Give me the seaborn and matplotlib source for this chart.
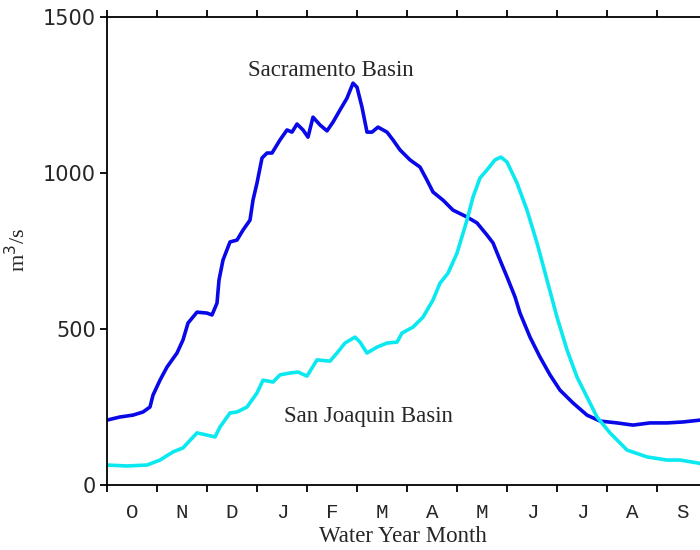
import pandas as pd
import numpy as np
import matplotlib.pyplot as plt
import seaborn as sns

sns.set_style("white")

# ---------------------------
# Data (month fraction of water year)
# ---------------------------
months = ['O', 'N', 'D', 'J', 'F', 'M', 'A', 'M', 'J', 'J', 'A', 'S']

sac_x = [0.00, 0.26, 0.52, 0.72, 0.86, 0.92, 1.06, 1.20, 1.40, 1.52, 1.62, 1.80,
         2.00, 2.10, 2.20, 2.24, 2.32, 2.46, 2.60, 2.72, 2.86, 2.92, 3.00, 3.10,
         3.20, 3.30, 3.46, 3.60, 3.70, 3.80, 3.92, 4.02, 4.12, 4.26, 4.40, 4.52,
         4.66, 4.80, 4.92, 5.00, 5.10, 5.20, 5.30, 5.42, 5.60, 5.72, 5.86, 6.06,
         6.26, 6.40, 6.52, 6.72, 6.92, 7.20, 7.40, 7.60, 7.72, 7.86, 8.00, 8.16,
         8.26, 8.46, 8.66, 8.86, 9.06, 9.32, 9.60, 9.86, 10.20, 10.52, 10.86,
         11.20, 11.52, 11.86, 12.00]
sac_q = [208, 218, 224, 234, 250, 288, 336, 378, 423, 465, 519, 554,
         551, 545, 583, 657, 721, 779, 785, 817, 849, 913, 968, 1048,
         1064, 1064, 1106, 1138, 1131, 1157, 1138, 1115, 1179, 1154, 1135, 1163,
         1202, 1240, 1288, 1275, 1211, 1131, 1131, 1147, 1131, 1106, 1074, 1042,
         1019, 977, 939, 913, 881, 859, 840, 801, 776, 721, 667, 603,
         551, 474, 410, 353, 304, 263, 224, 205, 199, 192, 199,
         199, 202, 208, 210]

sj_x = [0.00, 0.40, 0.80, 1.06, 1.32, 1.52, 1.80, 2.00, 2.16, 2.26, 2.46, 2.60,
        2.80, 3.00, 3.12, 3.32, 3.46, 3.66, 3.82, 4.00, 4.10, 4.20, 4.46, 4.60,
        4.76, 4.96, 5.06, 5.20, 5.40, 5.60, 5.80, 5.90, 6.12, 6.32, 6.52, 6.66,
        6.82, 7.00, 7.20, 7.32, 7.46, 7.60, 7.76, 7.88, 8.00, 8.20, 8.40, 8.60,
        8.80, 9.00, 9.20, 9.40, 9.60, 9.80, 10.06, 10.40, 10.80, 11.20, 11.46,
        11.80, 12.00]
sj_q = [64, 61, 64, 80, 106, 119, 167, 160, 154, 186, 231, 234,
        250, 295, 336, 330, 353, 359, 362, 349, 375, 401, 397, 423,
        455, 474, 458, 423, 442, 455, 458, 487, 506, 538, 593, 647,
        679, 743, 849, 923, 984, 1010, 1042, 1051, 1035, 968, 881, 776,
        657, 538, 433, 346, 282, 218, 167, 112, 90, 80, 80,
        71, 64]

df = pd.concat([
    pd.DataFrame({'month': sac_x, 'flow': sac_q, 'basin': 'Sacramento Basin'}),
    pd.DataFrame({'month': sj_x, 'flow': sj_q, 'basin': 'San Joaquin Basin'}),
])

fig = plt.figure(figsize=(7, 5.5), dpi=100)
ax = fig.add_axes([107 / 700, 65 / 550, 600 / 700, 468 / 550])

sns.lineplot(data=df, x='month', y='flow', hue='basin',
             palette={'Sacramento Basin': '#0808e8', 'San Joaquin Basin': '#0ae8f0'},
             linewidth=2.6, legend=False, ax=ax, sort=False)

ax.set_xlim(0, 12)
ax.set_ylim(0, 1500)

serif = 'Liberation Serif'

# month boundaries as ticks, labels centred between them
ax.set_xticks(range(13))
ax.set_xticklabels([])
ax.set_xticks(np.arange(12) + 0.5, minor=True)
ax.set_xticklabels(months, minor=True, family='Liberation Mono', fontsize=15)
ax.tick_params(axis='x', which='major', bottom=True, top=True, direction='out',
               length=5, width=1.3, color='black')
ax.tick_params(axis='x', which='minor', length=0, pad=13)

ax.set_yticks([0, 500, 1000, 1500])
ax.tick_params(axis='y', which='major', left=True, direction='out', length=5,
               width=1.3, color='black', labelsize=15, pad=3)
for lab in ax.get_yticklabels():
    lab.set_family('DejaVu Sans')

# top ticks point outward (upward)
ax.xaxis.set_ticks_position('both')
ax.tick_params(axis='x', which='major', top=True, direction='out')

for side in ['left', 'bottom', 'top', 'right']:
    ax.spines[side].set_color('black')
    ax.spines[side].set_linewidth(1.3)

ax.set_xlabel('Water Year Month', family=serif, fontsize=16.5, va='center')
ax.xaxis.set_label_coords((403 - 107) / 600, -(537 - 485) / 468)
ax.set_ylabel('m$^3$/s', family=serif, fontsize=16)
ax.yaxis.set_label_coords(-(107 - 30) / 600, (485 - 250) / 468)

ax.text(4.48, 1330, 'Sacramento Basin', family=serif, fontsize=16.5,
        ha='center', va='center')
ax.text(5.22, 218, 'San Joaquin Basin', family=serif, fontsize=16.5,
        ha='center', va='center')

ax.grid(False)
fig.savefig('out.png', dpi=100)
